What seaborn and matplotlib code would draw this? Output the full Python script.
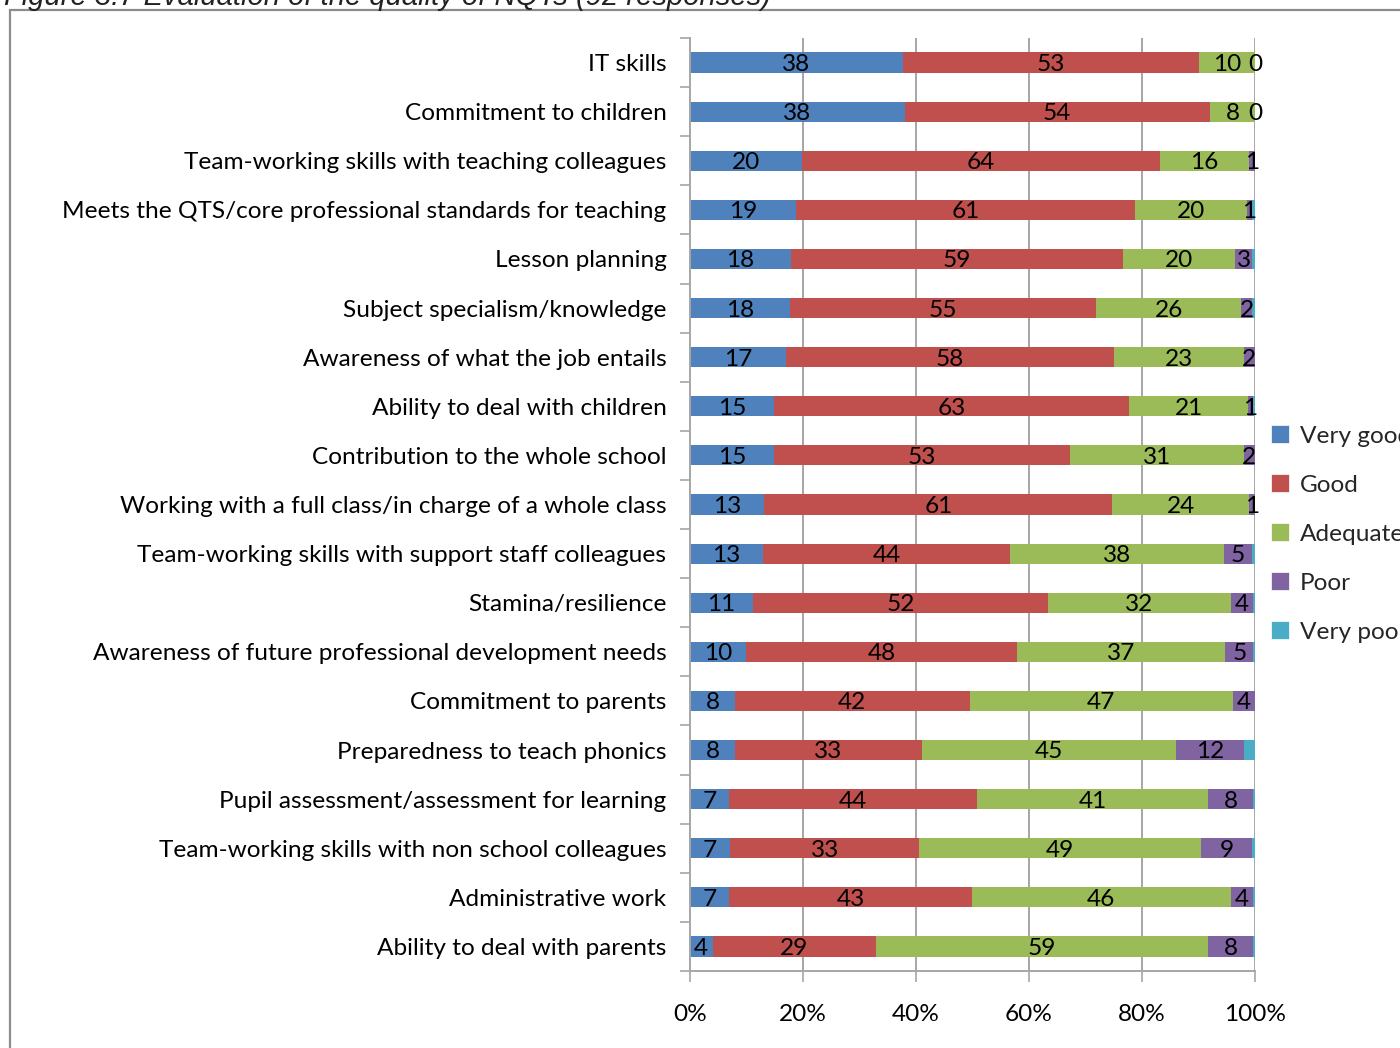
import numpy as np
import pandas as pd
import matplotlib
matplotlib.use("Agg")
import matplotlib.pyplot as plt
from matplotlib.patches import Patch, Rectangle
import seaborn as sns

categories = [
    "IT skills",
    "Commitment to children",
    "Team-working skills with teaching colleagues",
    "Meets the QTS/core professional standards for teaching",
    "Lesson planning",
    "Subject specialism/knowledge",
    "Awareness of what the job entails",
    "Ability to deal with children",
    "Contribution to the whole school",
    "Working with a full class/in charge of a whole class",
    "Team-working skills with support staff colleagues",
    "Stamina/resilience",
    "Awareness of future professional development needs",
    "Commitment to parents",
    "Preparedness to teach phonics",
    "Pupil assessment/assessment for learning",
    "Team-working skills with non school colleagues",
    "Administrative work",
    "Ability to deal with parents",
]

very_good = [38, 38, 20, 19, 18, 18, 17, 15, 15, 13, 13, 11, 10, 8, 8, 7, 7, 7, 4]
good = [53, 54, 64, 61, 59, 55, 58, 63, 53, 61, 44, 52, 48, 42, 33, 44, 33, 43, 29]
adequate = [10, 8, 16, 20, 20, 26, 23, 21, 31, 24, 38, 32, 37, 47, 45, 41, 49, 46, 59]
poor = [0, 0, 1, 1, 3, 2, 2, 1, 2, 1, 5, 4, 5, 4, 12, 8, 9, 4, 8]
very_poor = [0, 0, 0, 0.5, 0.5, 0.5, 0, 0.3, 0, 0, 0.5, 0.3, 0.3, 0, 2, 0.3, 0.5, 0.3, 0.3]

series_names = ["Very good", "Good", "Adequate", "Poor", "Very poor"]
series_colors = ["#4F81BD", "#C0504D", "#9BBB59", "#8064A2", "#4BACC6"]
labelled = [True, True, True, True, False]

title_text = "Figure 3.7 Evaluation of the quality of NQTs (92 responses)"

# ---------------------------------------------------------------------------
font_main = ["Lato", "DejaVu Sans"]
sns.set_theme(style="white")
plt.rcParams["font.family"] = font_main
fs = 17.6

values = np.array([very_good, good, adequate, poor, very_poor], dtype=float)
shares = values / values.sum(axis=0)          # 100% stacked
cum = np.cumsum(shares, axis=0)

fig = plt.figure(figsize=(14, 10.48), dpi=100)
ax = fig.add_axes([690 / 1400, 1 - 971 / 1048, (1255 - 690) / 1400, (971 - 38) / 1048])

grid_col = "#A6A6A6"
for xv in [0.2, 0.4, 0.6, 0.8, 1.0]:
    ax.axvline(xv, color=grid_col, lw=1.4, zorder=0)

# cumulative overlay: draw the running totals from the last series back
for i in reversed(range(len(series_names))):
    df = pd.DataFrame({"category": categories, "total": cum[i]})
    sns.barplot(data=df, x="total", y="category", orient="y", color=series_colors[i],
                width=0.41, saturation=1, edgecolor="none", ax=ax, zorder=2)

# data labels centred in each segment
for i in range(len(series_names)):
    if not labelled[i]:
        continue
    starts = cum[i] - shares[i]
    for j in range(len(categories)):
        ax.text(starts[j] + shares[i, j] / 2, j + 0.04, f"{values[i, j]:g}",
                ha="center", va="center", fontsize=fs, color="black", zorder=4)

ax.set_xlim(0, 1)
ax.set_ylim(len(categories) - 0.5, -0.5)
ax.set_xlabel("")
ax.set_ylabel("")

ax.set_xticks([0, 0.2, 0.4, 0.6, 0.8, 1.0])
ax.set_xticklabels(["0%", "20%", "40%", "60%", "80%", "100%"])
ax.tick_params(axis="x", which="major", direction="out", length=8, width=1.2,
               color=grid_col, pad=16, labelsize=fs, labelcolor="black", bottom=True)

ax.set_yticks(range(len(categories)))
ax.set_yticklabels(categories)
ax.tick_params(axis="y", which="major", length=0, pad=17, labelsize=fs, labelcolor="black")
ax.set_yticks(np.arange(-0.5, len(categories)), minor=True)
ax.tick_params(axis="y", which="minor", direction="out", length=7, width=1.2,
               color=grid_col, left=True)

for side in ["top", "right"]:
    ax.spines[side].set_visible(False)
for side in ["left", "bottom"]:
    ax.spines[side].set_color(grid_col)
    ax.spines[side].set_linewidth(1.4)

handles = [Patch(facecolor=c, edgecolor="white", linewidth=0.5) for c in series_colors]
fig.legend(handles, series_names, loc="center left",
           bbox_to_anchor=(1261 / 1400, 1 - 534 / 1048), frameon=False,
           fontsize=fs, handlelength=0.75, handleheight=0.75, handletextpad=0.45,
           labelspacing=1.13, borderaxespad=0)

# outer frame of the chart area
fig.add_artist(Rectangle((10 / 1400, -0.1), 1.2, 1.1 - 10 / 1048, transform=fig.transFigure,
                         fill=False, edgecolor="#8C8C8C", linewidth=1.6))

fig.text(0.003, 1 - 5 / 1048, title_text, ha="left", va="baseline", fontsize=21,
         style="italic", family=["Liberation Sans", "DejaVu Sans"], color="#222222")

fig.savefig("out.png", dpi=100)
